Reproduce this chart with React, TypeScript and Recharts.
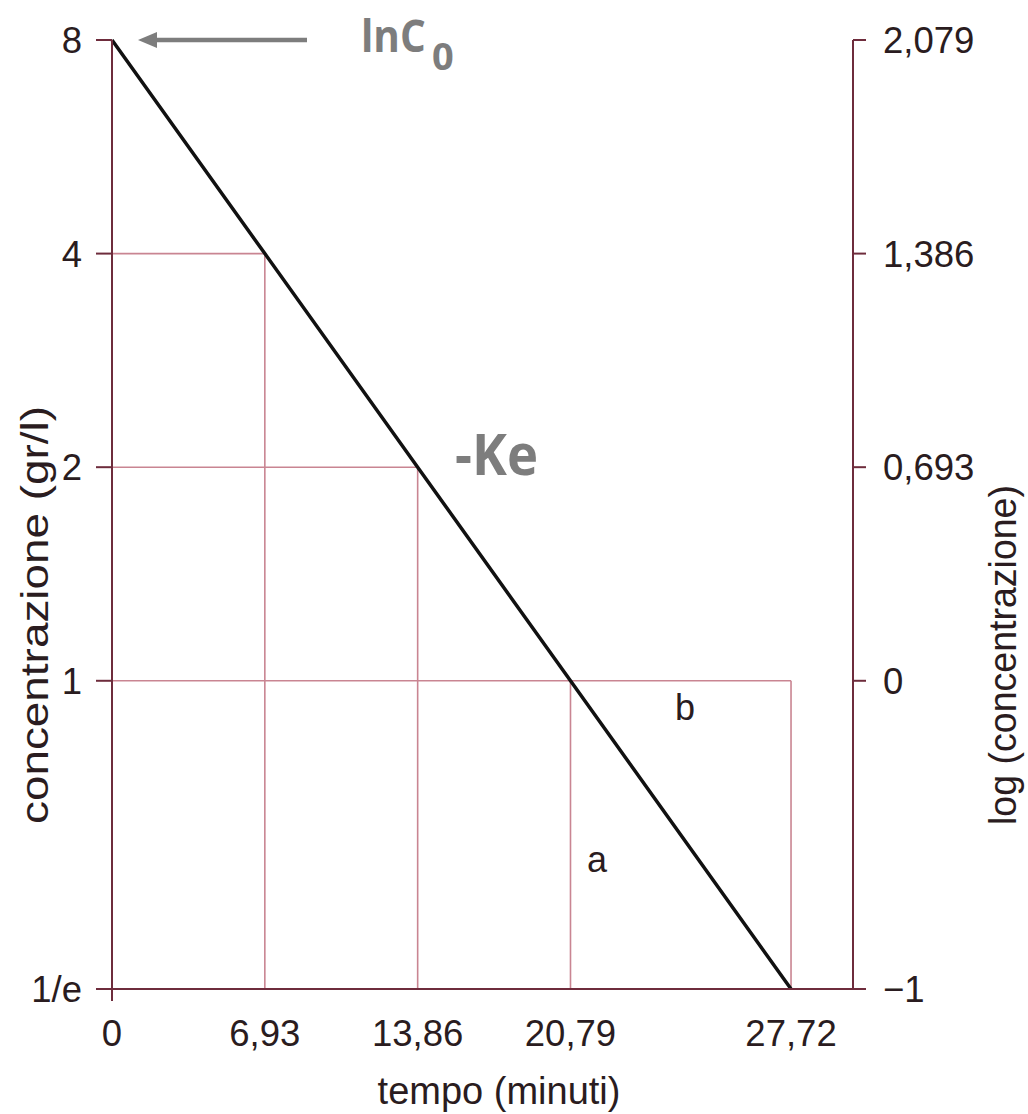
import { Line, LineChart, ReferenceLine, XAxis, YAxis } from 'recharts'

// concentration levels (left axis) and their natural logs (right axis)
const concLabels = ['8', '4', '2', '1', '1/e']
const logLabels = ['2,079', '1,386', '0,693', '0', '\u22121']
const logValues = [2.079, 1.386, 0.693, 0, -1]
const timeLabels = ['0', '6,93', '13,86', '20,79', '27,72']
const KE = 0.1

// position along the time axis follows the drop in ln(C)
const data = logValues.map((l, i) => ({
  t: (logValues[0] - l) / KE,
  logC: l,
  label: timeLabels[i]
}))

const AXIS = '#6e2c3c'
const GRID = '#c98592'
const INK = '#2a1c20'
const NOTE = '#7d7d7d'
const FONT = '"Liberation Sans", Arial, sans-serif'
const NOTE_FONT = '"Open Sans", "DejaVu Sans", sans-serif'

const X_TICK = 12
const X_MARGIN = 19

const lastT = data[data.length - 1].t
const oneIdx = logValues.indexOf(0)

const TimeTick = (props: any) => {
  const { x, y, payload } = props
  const i = data.findIndex(d => Math.abs(d.t - payload.value) < 1e-6)
  const axisY = y - X_MARGIN - X_TICK
  return (
    <g>
      {i === 0 && <line x1={x} x2={x} y1={axisY} y2={axisY + X_TICK} stroke={AXIS} strokeWidth={2} />}
      <text x={x} y={y} dy="0.71em" textAnchor="middle" fontSize={36.5} fontFamily={FONT} fill={INK}>
        {timeLabels[i]}
      </text>
    </g>
  )
}

const labelFor = (labels: string[]) => (v: number) => {
  const i = logValues.findIndex(l => Math.abs(l - v) < 1e-6)
  return i >= 0 ? labels[i] : ''
}

export default function App() {
  const segs: { pts: { x: number; y: number }[] }[] = []
  data.slice(1, oneIdx + 1).forEach((d, k) => {
    const i = k + 1
    segs.push({ pts: [{ x: 0, y: d.logC }, { x: i === oneIdx ? lastT : d.t, y: d.logC }] })
    segs.push({ pts: [{ x: d.t, y: d.logC }, { x: d.t, y: -1 }] })
  })
  segs.push({ pts: [{ x: lastT, y: 0 }, { x: lastT, y: -1 }] })

  return (
    <div style={{ position: 'absolute', left: 0, top: 0, background: '#fff' }}>
      <LineChart width={1028} height={1114} data={data} margin={{ top: 40, right: 0, bottom: 0, left: 0 }}>
        <XAxis
          type="number"
          dataKey="t"
          domain={[0, 33.6]}
          ticks={data.map(d => d.t)}
          interval={0}
          height={125}
          tickSize={X_TICK}
          tickMargin={X_MARGIN}
          tickLine={false}
          axisLine={{ stroke: AXIS, strokeWidth: 2 }}
          tick={<TimeTick />}
        />
        <YAxis
          yAxisId="left"
          type="number"
          domain={[-1, 2.079]}
          ticks={logValues}
          interval={0}
          width={112}
          tickSize={16}
          tickMargin={14}
          tickFormatter={labelFor(concLabels)}
          tick={{ fontSize: 36.5, fontFamily: FONT, fill: INK }}
          tickLine={{ stroke: AXIS, strokeWidth: 2 }}
          axisLine={{ stroke: AXIS, strokeWidth: 2 }}
        />
        <YAxis
          yAxisId="right"
          orientation="right"
          type="number"
          domain={[-1, 2.079]}
          ticks={logValues}
          interval={0}
          width={175}
          tickSize={13}
          tickMargin={17}
          tickFormatter={labelFor(logLabels)}
          tick={{ fontSize: 36.5, fontFamily: FONT, fill: INK }}
          tickLine={{ stroke: AXIS, strokeWidth: 2 }}
          axisLine={{ stroke: AXIS, strokeWidth: 2 }}
        />
        {segs.map((s, i) => (
          <ReferenceLine key={i} yAxisId="left" segment={s.pts} stroke={GRID} strokeWidth={1.6} />
        ))}
        <Line
          yAxisId="right"
          type="linear"
          dataKey="logC"
          stroke="none"
          dot={false}
          activeDot={false}
          isAnimationActive={false}
        />
        <Line
          yAxisId="left"
          type="linear"
          dataKey="logC"
          stroke="#111"
          strokeWidth={3.5}
          dot={false}
          activeDot={false}
          isAnimationActive={false}
        />

        {/* axis titles */}
        <text
          x={48}
          y={615}
          transform="rotate(-90 48 615)"
          textAnchor="middle"
          fontSize={39}
          fontFamily={FONT}
          fill={INK}
          textLength={418}
          lengthAdjust="spacingAndGlyphs"
        >
          concentrazione (gr/l)
        </text>
        <text
          x={1016}
          y={655}
          transform="rotate(-90 1016 655)"
          textAnchor="middle"
          fontSize={38}
          fontFamily={FONT}
          fill={INK}
          textLength={340}
          lengthAdjust="spacingAndGlyphs"
        >
          log (concentrazione)
        </text>
        <text x={499} y={1104} textAnchor="middle" fontSize={38} fontFamily={FONT} fill={INK}>
          tempo (minuti)
        </text>

        {/* triangle labels */}
        <text x={597} y={872} textAnchor="middle" fontSize={36} fontFamily={FONT} fill={INK}>a</text>
        <text x={685} y={720} textAnchor="middle" fontSize={36} fontFamily={FONT} fill={INK}>b</text>

        {/* annotations */}
        <line x1={307} x2={152} y1={40} y2={40} stroke={NOTE} strokeWidth={4.5} />
        <polygon points="138,40 157,32 157,48" fill={NOTE} />
        <text
          transform="translate(361 52) scale(0.9 1)"
          fontSize={45}
          fontWeight={700}
          fontFamily={NOTE_FONT}
          fill={NOTE}
        >
          lnC
        </text>
        <text x={432} y={70} fontSize={38} fontWeight={700} fontFamily={NOTE_FONT} fill={NOTE}>0</text>
        <text
          x={455}
          y={475}
          fontSize={58}
          fontWeight={700}
          fontFamily={NOTE_FONT}
          fill={NOTE}
          textLength={83}
          lengthAdjust="spacingAndGlyphs"
        >
          -Ke
        </text>
      </LineChart>
    </div>
  )
}
